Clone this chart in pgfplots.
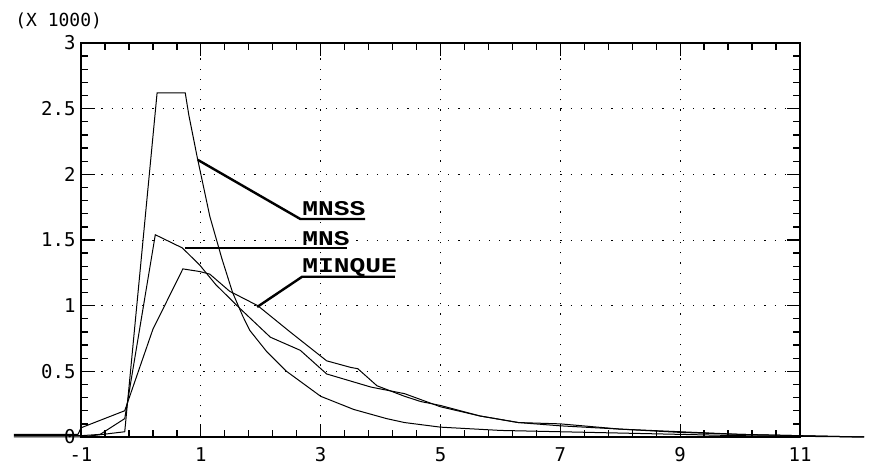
\documentclass[border=0pt]{standalone}
\usepackage{fontspec}
\setmainfont{DejaVu Sans Mono}
\newfontfamily\tickfont{DejaVu Sans Mono}
\newfontfamily\tagfont{Liberation Mono}[FakeStretch=1.25]
\usepackage{pgfplots}
\pgfplotsset{compat=1.18}

% density estimates (values in thousands)
\pgfplotstableread{
x      y
-2.12  0.00
-1.00  0.00
-0.27  0.04
0.27   2.62
0.74   2.62
0.80   2.45
0.94   2.13
1.15   1.68
1.35   1.36
1.53   1.10
1.70   0.92
1.82   0.81
2.10   0.65
2.43   0.50
3.00   0.31
3.55   0.21
4.10   0.14
4.40   0.11
5.00   0.075
6.00   0.05
7.00   0.04
8.00   0.03
9.00   0.02
10.00  0.01
11.00  0.005
12.07  0.00
}\mnss

\pgfplotstableread{
x      y
-2.12  0.01
-1.00  0.01
-0.68  0.02
-0.27  0.14
0.24   1.54
0.69   1.44
0.98   1.31
1.25   1.16
1.65   0.98
2.16   0.76
2.66   0.66
3.10   0.48
3.84   0.38
4.40   0.33
5.00   0.23
5.66   0.16
6.30   0.11
7.00   0.085
7.60   0.07
8.00   0.06
9.00   0.035
10.00  0.02
11.00  0.01
12.07  0.00
}\mns

\pgfplotstableread{
x      y
-2.12  0.02
-1.05  0.02
-1.00  0.07
-0.27  0.20
0.20   0.82
0.70   1.28
0.98   1.26
1.15   1.24
1.48   1.11
1.95   1.00
2.49   0.80
3.10   0.58
3.50   0.53
3.62   0.52
3.94   0.39
4.40   0.31
4.67   0.27
5.00   0.24
5.66   0.16
6.30   0.11
7.00   0.10
8.00   0.06
9.00   0.04
10.00  0.02
11.00  0.01
12.07  0.00
}\minque

\tikzset{
  dotgrid/.style={black, line width=0.9pt, dash pattern=on 1.2pt off 9pt},
}
\pgfplotsset{tk/.style={black, solid, line width=1.3pt, mark=none, forget plot}}

\begin{document}
\begin{tikzpicture}
\begin{axis}[
  scale only axis,
  width=719pt, height=394pt,
  xmin=-1, xmax=11, ymin=0, ymax=3,
  xtick={-1,1,...,11},
  ytick={0,0.5,...,3},
  major tick length=0pt,
  minor tick length=0pt,
  axis line style={line width=1.5pt},
  clip=false,
  /pgf/number format/assume math mode=true,
  tick label style={font=\tickfont\fontsize{19}{20}\selectfont},
  yticklabel style={xshift=-2pt},
  xticklabel style={yshift=-7pt},
]
% dotted reference lines at the major ticks
\pgfplotsinvokeforeach{1,3,5,7,9}{
  \draw[dotgrid] (axis cs:#1,0) -- (axis cs:#1,3);
}
\pgfplotsinvokeforeach{0.5,1,1.5,2,2.5}{
  \draw[dotgrid] (axis cs:-1,#1) -- (axis cs:11,#1);
}

% inward tick marks on all four sides
\pgfplotsinvokeforeach{-0.6,-0.2,0.2,0.6,1.4,1.8,2.2,2.6,3.4,3.8,4.2,4.6,5.4,5.8,6.2,6.6,7.4,7.8,8.2,8.6,9.4,9.8,10.2,10.6}{
  \addplot[tk] coordinates {(#1,0) (#1,0.053)};
  \addplot[tk] coordinates {(#1,3) (#1,2.947)};
}
\pgfplotsinvokeforeach{-1,1,3,5,7,9,11}{
  \addplot[tk] coordinates {(#1,0) (#1,0.099)};
  \addplot[tk] coordinates {(#1,3) (#1,2.901)};
}
\pgfplotsinvokeforeach{0.1,0.2,0.3,0.4,0.6,0.7,0.8,0.9,1.1,1.2,1.3,1.4,1.6,1.7,1.8,1.9,2.1,2.2,2.3,2.4,2.6,2.7,2.8,2.9}{
  \addplot[tk] coordinates {(-1,#1) (-0.883,#1)};
  \addplot[tk] coordinates {(11,#1) (10.883,#1)};
}
\pgfplotsinvokeforeach{0.5,1,1.5,2,2.5}{
  \addplot[tk] coordinates {(-1,#1) (-0.766,#1)};
  \addplot[tk] coordinates {(11,#1) (10.783,#1)};
}

\addplot[black, line width=1pt] table {\mnss};
\addplot[black, line width=1pt] table {\mns};
\addplot[black, line width=1pt] table {\minque};

% label leaders
\addplot[black, line width=2.4pt] coordinates {(0.95,2.11) (2.66,1.66) (3.74,1.66)};
\addplot[black, line width=2.4pt] coordinates {(0.74,1.44) (3.44,1.44)};
\addplot[black, line width=2.4pt] coordinates {(1.94,0.99) (2.69,1.22) (4.24,1.22)};

\node[anchor=base west, inner sep=0, font=\tagfont\bfseries\fontsize{21}{21}\selectfont] at (axis cs:2.69,1.69) {MNSS};
\node[anchor=base west, inner sep=0, font=\tagfont\bfseries\fontsize{21}{21}\selectfont] at (axis cs:2.69,1.46) {MNS};
\node[anchor=base west, inner sep=0, font=\tagfont\bfseries\fontsize{21}{21}\selectfont] at (axis cs:2.69,1.25) {MINQUE};

\node[anchor=west, inner sep=0, font=\tickfont\fontsize{18}{20}\selectfont] at (axis cs:-2.1,3.17) {(X 1000)};
\end{axis}
\path (-81pt,-32pt) rectangle (790pt,437pt);
\end{tikzpicture}
\end{document}
